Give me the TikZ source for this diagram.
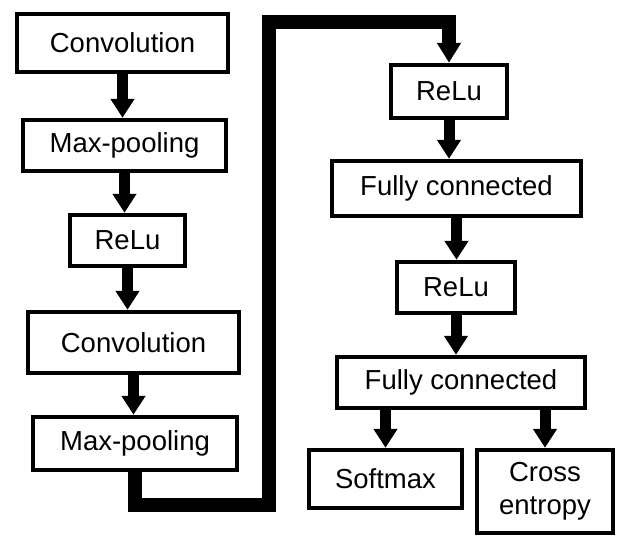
\documentclass[tikz,border=0pt]{standalone}
\usepackage{fontspec}
\setmainfont{Liberation Sans}
\usetikzlibrary{arrows.meta}

\begin{document}
\begin{tikzpicture}[x=1pt, y=-1pt,
    box/.style={draw, line width=4.5pt, inner sep=0pt, align=center,
                font=\fontsize{27.5}{33}\selectfont},
    flow/.style={draw, line width=11pt, -{Triangle[length=19pt,width=23pt]}},
    link/.style={draw, line width=14.5pt, line join=miter, -{Triangle[length=20pt,width=23pt]}}]
       \useasboundingbox (0,0) rectangle (630,536);
       % left column
       \node[box, minimum width=211pt, minimum height=58pt]  (conv1) at (122.5,43) {Convolution};
       \node[box, minimum width=203pt, minimum height=51pt]  (pool1) at (124.5,145.5) {Max-pooling};
       \node[box, minimum width=115pt, minimum height=51pt]  (relu1) at (127.5,240.5) {ReLu};
       \node[box, minimum width=211pt, minimum height=61pt]  (conv2) at (133.5,342.5) {Convolution};
       \node[box, minimum width=204pt, minimum height=53pt]  (pool2) at (135,443.5) {Max-pooling};
       % right column
       \node[box, minimum width=116pt, minimum height=53pt]  (relu2) at (449,91.5) {ReLu};
       \node[box, minimum width=249pt, minimum height=55pt]  (fc1) at (456.5,188.5) {Fully connected};
       \node[box, minimum width=118pt, minimum height=51pt]  (relu3) at (456,287.5) {ReLu};
       \node[box, minimum width=248pt, minimum height=51pt]  (fc2) at (461,382.5) {Fully connected};
       \node[box, minimum width=153pt, minimum height=58pt]  (soft) at (385.5,479) {Softmax};
       \node[box, minimum width=136pt, minimum height=83pt]  (xent) at (545,491.5) {Cross\\entropy};
       \coordinate (low) at (269,505);
       \coordinate (high) at (269,22);
       \path[flow] (conv1.south) -- (conv1.south |- pool1.north);
       \path[flow] (pool1.south) -- (pool1.south |- relu1.north);
       \path[flow] (relu1.south) -- (relu1.south |- conv2.north);
       \path[flow] (conv2.south) -- (conv2.south |- pool2.north);
       \path[link] (pool2.south) |- (low) -- (high) -- (relu2.north |- high) -- (relu2.north);
       \path[flow] (relu2.south) -- (relu2.south |- fc1.north);
       \path[flow] (fc1.south) -- (fc1.south |- relu3.north);
       \path[flow] (relu3.south) -- (relu3.south |- fc2.north);
       \path[flow] (soft.north |- fc2.south) -- (soft.north);
       \path[flow] (xent.north |- fc2.south) -- (xent.north);
        \end{tikzpicture}
\end{document}
